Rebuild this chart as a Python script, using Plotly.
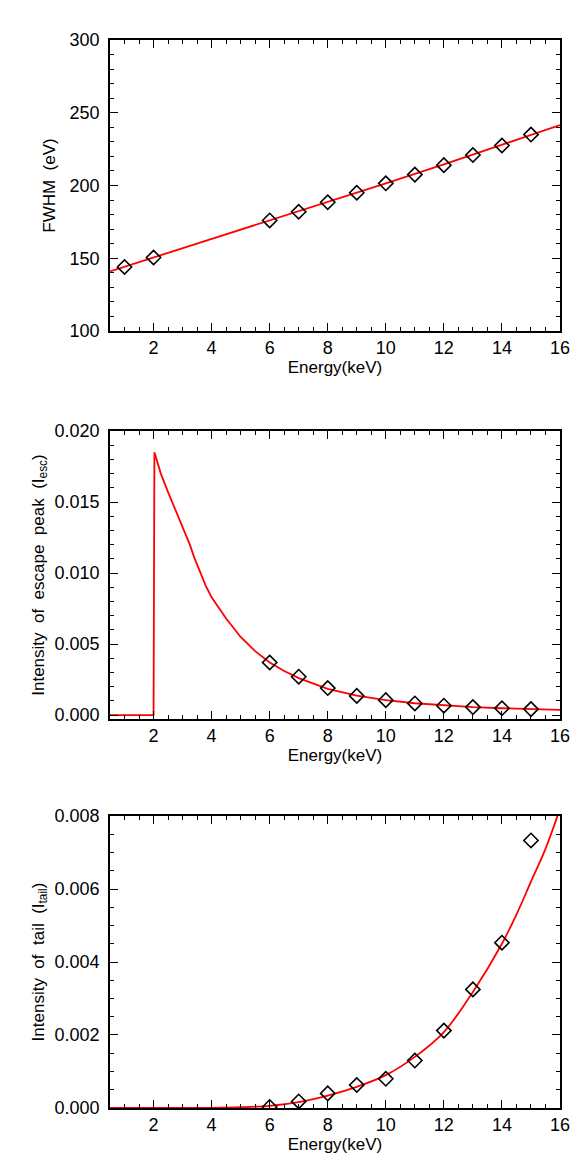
import plotly.graph_objects as go
from plotly.subplots import make_subplots

# measured points (keV)
energy_pts = [1, 2, 6, 7, 8, 9, 10, 11, 12, 13, 14, 15]
fwhm_pts = [144.0, 150.5, 176.0, 182.0, 188.5, 195.0, 201.5, 207.5, 214.0, 221.0, 227.5, 235.0]

energy_esc = [6, 7, 8, 9, 10, 11, 12, 13, 14, 15]
esc_pts = [0.0037, 0.0027, 0.0019, 0.00135, 0.00105, 0.00082, 0.00066, 0.00056, 0.00048, 0.00042]

energy_tail = [6, 7, 8, 9, 10, 11, 12, 13, 14, 15]
tail_pts = [0.00003, 0.00018, 0.00040, 0.00063, 0.00080, 0.00130, 0.00212, 0.00325, 0.00453, 0.00733]

# fitted curves
fwhm_fit_e = [0.5, 2, 4, 6, 8, 10, 12, 14, 16]
fwhm_fit = [141.0, 150.5, 163.5, 176.0, 188.8, 201.5, 214.5, 227.8, 241.5]

esc_fit_e = [0.5, 2.0, 2.03, 2.25, 2.5, 2.75, 3.0, 3.25, 3.4, 3.5, 3.6, 3.8, 4.0, 4.5, 5.0,
             5.5, 6.0, 6.5, 7.0, 7.5, 8.0, 9.0, 10.0, 11.0, 12.0, 13.0, 14.0, 15.0, 16.0]
esc_fit = [0.0, 0.0, 0.0185, 0.0170, 0.0157, 0.0145, 0.0133, 0.0120, 0.0111, 0.0106, 0.0101,
           0.0091, 0.0083, 0.0068, 0.0055, 0.0045, 0.0037, 0.0031, 0.0026, 0.0022, 0.00185,
           0.00137, 0.00105, 0.00083, 0.00067, 0.00056, 0.00048, 0.00042, 0.00037]

tail_fit_e = [0.5, 2, 3, 4, 5, 6, 7, 8, 9, 10, 11, 12, 13, 14, 14.5, 15, 15.5, 16]
tail_fit = [0.0, 0.0, 0.0, 0.000005, 0.00002, 0.00006, 0.00016, 0.00034, 0.00058, 0.00090,
            0.00140, 0.00208, 0.00318, 0.00450, 0.00530, 0.00620, 0.00710, 0.00820]

x_ticks = [2, 4, 6, 8, 10, 12, 14, 16]

RED = "#ff0000"
FONT = "Liberation Sans"

fig = make_subplots(rows=3, cols=1)

panels = [
    (fwhm_fit_e, fwhm_fit, energy_pts, fwhm_pts),
    (esc_fit_e, esc_fit, energy_esc, esc_pts),
    (tail_fit_e, tail_fit, energy_tail, tail_pts),
]
for i, (fe, fv, pe, pv) in enumerate(panels, start=1):
    fig.add_trace(go.Scatter(x=fe, y=fv, mode="lines", line=dict(color=RED, width=1.8),
                             line_shape="spline" if i == 3 else "linear", showlegend=False), row=i, col=1)
    fig.add_trace(go.Scatter(x=pe, y=pv, mode="markers", showlegend=False,
                             marker=dict(symbol="diamond-open", size=11, color="black",
                                         line=dict(width=1.6, color="black"))), row=i, col=1)

axis_common = dict(showline=True, linecolor="black", linewidth=1.6, mirror="ticks",
                   ticks="inside", ticklen=8, tickwidth=1.4, tickcolor="black",
                   showgrid=False, zeroline=False,
                   tickfont=dict(family=FONT, size=18, color="black"))

domains = [(0.7275, 1.0), (0.3642, 0.6339), (0.0, 0.2734)]
y_setup = [
    dict(range=[100, 300], dtick=50, minor=0.01 * 1000, title="FWHM\u00a0\u00a0(eV)", standoff=10, fmt=""),
    dict(range=[-0.00028, 0.020], dtick=0.005, minor=0.001,
         title="Intensity\u00a0 of\u00a0 escape\u00a0 peak\u00a0\u00a0(I<sub>esc</sub>)", standoff=6, fmt=".3f"),
    dict(range=[0, 0.008], dtick=0.002, minor=0.0005,
         title="Intensity\u00a0 of\u00a0 tail\u00a0\u00a0(I<sub>tail</sub>)", standoff=6, fmt=".3f"),
]

for i, (dom, ys) in enumerate(zip(domains, y_setup), start=1):
    fig.update_xaxes(axis_common, row=i, col=1, range=[0.5, 16], tickvals=x_ticks,
                     minor=dict(dtick=0.5, tick0=0, ticks="inside", ticklen=4, tickcolor="black"),
                     ticklabelstandoff=0,
                     title=dict(text="Energy(keV)", standoff=4, font=dict(family=FONT, size=17, color="black")))
    fig.update_yaxes(axis_common, row=i, col=1, domain=list(dom), range=ys["range"], dtick=ys["dtick"],
                     tick0=0, tickformat=ys["fmt"], ticklabelstandoff=5,
                     minor=dict(dtick=ys["minor"], tick0=0, ticks="inside", ticklen=4, tickcolor="black"),
                     title=dict(text=ys["title"], standoff=ys["standoff"],
                                font=dict(family=FONT, size=17, color="black")))

fig.update_layout(width=581, height=1164, margin=dict(l=102, r=29, t=32, b=64),
                  paper_bgcolor="white", plot_bgcolor="white",
                  font=dict(family=FONT, color="black"))

fig.write_html("out.html")
